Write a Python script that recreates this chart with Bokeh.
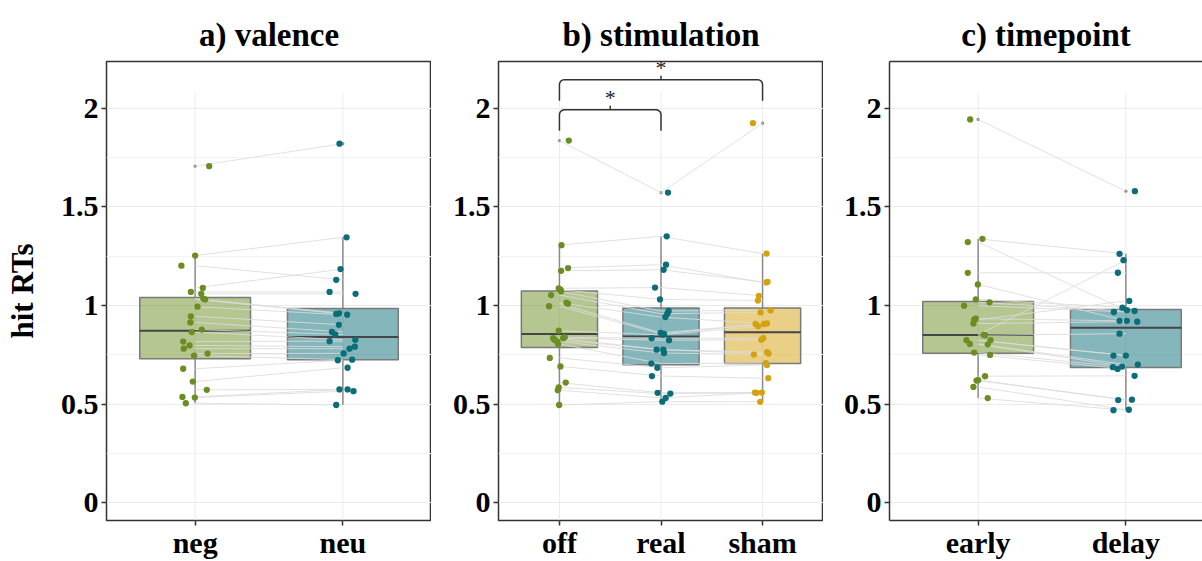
import numpy as np
from bokeh.plotting import figure
from bokeh.layouts import row
from bokeh.models import Range1d, FixedTicker, NumeralTickFormatter, LinearAxis
from bokeh.core.properties import value
from bokeh.embed import file_html
from bokeh.resources import INLINE

FONT = "Liberation Serif"

# ---- hit RTs per subject (same row index = same subject within a panel) ----
valence_labels = ["neg", "neu"]
neg_rt = [1.707, 1.253, 1.202, 1.089, 1.069, 1.059, 1.035, 1.031, 0.994, 0.945, 0.914, 0.878,
          0.865, 0.817, 0.797, 0.781, 0.756, 0.746, 0.679, 0.614, 0.572, 0.536, 0.533, 0.504]
neu_rt = [1.821, 1.346, 1.130, 1.185, 1.069, 1.059, 0.960, 0.957, 0.953, 0.902, 0.866, 0.853,
          0.826, 0.819, 0.791, 0.781, 0.757, 0.725, 0.722, 0.684, 0.574, 0.574, 0.565, 0.495]
neg_jit = [0.095, 0.0, -0.093, 0.052, -0.029, 0.041, 0.056, 0.068, 0.016, -0.029, -0.032, 0.045,
           -0.023, -0.081, -0.038, -0.077, 0.084, -0.007, -0.081, -0.016, 0.079, -0.086, -0.002, -0.063]
neu_jit = [-0.023, 0.025, -0.045, -0.016, -0.090, 0.086, -0.025, -0.045, 0.029, -0.027, -0.074, -0.052,
           0.084, -0.090, 0.081, 0.045, 0.005, 0.063, -0.034, 0.032, -0.023, 0.032, 0.072, -0.045]

stim_labels = ["off", "real", "sham"]
off_rt = [1.837, 1.306, 1.190, 1.176, 1.087, 1.080, 1.072, 1.053, 1.014, 1.009, 0.996, 0.872,
          0.839, 0.834, 0.834, 0.825, 0.817, 0.805, 0.734, 0.691, 0.609, 0.584, 0.570, 0.495]
real_rt = [1.573, 1.351, 1.207, 1.181, 1.091, 1.031, 0.972, 0.958, 0.941, 0.861, 0.856, 0.851,
           0.834, 0.824, 0.776, 0.776, 0.759, 0.705, 0.684, 0.642, 0.557, 0.553, 0.531, 0.512]
sham_rt = [1.925, 1.263, 1.117, 1.120, 1.049, 1.025, 0.975, 0.965, 0.909, 0.906, 0.906, 0.895,
           0.834, 0.826, 0.763, 0.756, 0.751, 0.708, 0.698, 0.631, 0.558, 0.557, 0.558, 0.511]
off_jit = [0.092, 0.020, 0.085, 0.016, -0.007, 0.010, 0.016, -0.082, 0.069, 0.085, -0.102, -0.007,
           0.052, -0.062, 0.036, -0.046, -0.023, -0.013, -0.095, 0.010, 0.062, -0.007, -0.016, -0.003]
real_jit = [0.069, 0.056, 0.049, 0.026, -0.059, -0.010, 0.075, 0.062, 0.043, -0.003, 0.030, 0.020,
            -0.092, 0.079, -0.043, 0.023, 0.030, -0.095, -0.036, -0.089, -0.033, 0.092, 0.046, 0.013]
sham_jit = [-0.095, 0.039, 0.039, 0.049, -0.036, -0.046, 0.079, -0.020, 0.043, -0.069, 0.013, -0.043,
            0.007, -0.013, 0.046, 0.059, -0.085, 0.033, 0.043, 0.056, -0.075, -0.059, -0.007, -0.023]

# pairwise comparisons marked with a bracket and a star
stim_pairs = [("off", "real"), ("off", "sham")]
stim_pair_y = [1.993, 2.146]
stim_pair_label = ["*", "*"]

time_labels = ["early", "delay"]
early_rt = [1.944, 1.338, 1.322, 1.166, 1.107, 1.031, 1.016, 0.999, 0.933, 0.928, 0.908, 0.851,
            0.849, 0.824, 0.824, 0.805, 0.803, 0.761, 0.749, 0.641, 0.621, 0.619, 0.587, 0.530]
delay_rt = [1.580, 1.262, 0.976, 1.166, 0.922, 0.989, 0.972, 0.967, 0.922, 1.023, 0.918, 1.230,
            0.857, 0.746, 0.746, 0.700, 0.690, 0.687, 0.678, 0.643, 0.522, 0.520, 0.471, 0.469]
early_jit = [-0.054, 0.029, -0.070, -0.070, -0.002, -0.016, 0.077, -0.095, -0.016, -0.027, -0.032, 0.038,
             0.047, -0.079, 0.084, -0.056, 0.065, -0.027, 0.081, 0.047, 0.0, -0.011, -0.032, 0.065]
delay_jit = [0.061, -0.043, 0.007, -0.054, -0.043, -0.023, 0.059, -0.081, 0.007, 0.023, 0.077, -0.016,
             -0.043, -0.084, 0.0, 0.081, -0.025, -0.088, -0.056, 0.059, 0.041, -0.052, 0.020, -0.084]

y_ticks = [0, 0.5, 1, 1.5, 2]
y_minor = [0.25, 0.75, 1.25, 1.75]

GREEN = "#6B8E23"
TEAL = "#0B6D78"
GOLD = "#D4A20E"

Y0, Y1 = -0.091, 2.238
BOX_W = 0.75


def box_stats(vals):
    v = np.asarray(vals)
    q1, med, q3 = np.percentile(v, [25, 50, 75])
    iqr = q3 - q1
    lo = v[v >= q1 - 1.5 * iqr].min()
    hi = v[v <= q3 + 1.5 * iqr].max()
    out = v[(v < q1 - 1.5 * iqr) | (v > q3 + 1.5 * iqr)]
    return q1, med, q3, lo, hi, out


def make_panel(title, labels, series, jitters, colors, width, border_left, x_hi,
               ylabel=None, closed=True):
    p = figure(width=width, height=561, x_range=Range1d(0.4, x_hi), y_range=Range1d(Y0, Y1),
               output_backend="svg", toolbar_location=None,
               min_border_left=border_left, min_border_right=0,
               min_border_top=61, min_border_bottom=40)
    p.background_fill_color = "white"
    p.border_fill_color = "white"

    p.title.text = title
    p.title.align = "center"
    p.title.text_font = FONT
    p.title.text_font_size = "33px"
    p.title.text_font_style = "bold"
    p.title.text_color = "black"
    p.title.standoff = 18

    cats = list(range(1, len(labels) + 1))

    # axes
    p.yaxis.ticker = FixedTicker(ticks=y_ticks, minor_ticks=y_minor)
    p.yaxis.formatter = NumeralTickFormatter(format="0.[0]")
    p.xaxis.ticker = FixedTicker(ticks=cats)
    p.xaxis.major_label_overrides = {c: lab for c, lab in zip(cats, labels)}
    for ax in (p.xaxis, p.yaxis):
        ax.major_label_text_font = FONT
        ax.major_label_text_font_style = "bold"
        ax.major_label_text_color = "black"
        ax.major_tick_line_color = "#333333"
        ax.major_tick_line_width = 1.5
        ax.major_tick_in = 0
        ax.major_tick_out = 5
        ax.minor_tick_line_color = None
        ax.axis_line_color = "#333333" if not closed else None
        ax.axis_line_width = 1.5
    p.yaxis.major_label_text_font_size = "30px"
    p.yaxis.major_label_standoff = 3
    p.xaxis.major_label_text_font_size = "30px"
    p.xaxis.major_label_standoff = 0
    if ylabel:
        p.yaxis.axis_label = ylabel
        p.yaxis.axis_label_text_font = FONT
        p.yaxis.axis_label_text_font_size = "31px"
        p.yaxis.axis_label_text_font_style = "bold"
        p.yaxis.axis_label_text_color = "black"
        p.yaxis.axis_label_standoff = 18

    # grid
    p.xgrid.grid_line_color = None
    p.ygrid.grid_line_color = "#EBEBEB"
    p.ygrid.grid_line_width = 1
    p.ygrid.minor_grid_line_color = "#F4F4F4"
    p.ygrid.minor_grid_line_width = 1
    p.segment(x0=cats, y0=[Y0] * len(cats), x1=cats, y1=[2.08] * len(cats),
              line_color="#EBEBEB", line_width=1)

    if closed:
        p.outline_line_color = "#333333"
        p.outline_line_width = 1.5
    else:
        p.outline_line_color = None
        top = LinearAxis(ticker=FixedTicker(ticks=[]), axis_line_color="#333333",
                         axis_line_width=1.5, major_tick_line_color=None,
                         minor_tick_line_color=None, major_label_text_font_size="0px")
        p.add_layout(top, "above")

    # boxes, whiskers and outliers
    for c, vals, col in zip(cats, series, colors):
        q1, med, q3, lo, hi, out = box_stats(vals)
        p.segment(x0=[c, c], y0=[q3, q1], x1=[c, c], y1=[hi, lo],
                  line_color="#8A8A8A", line_width=1.5)
        p.quad(left=[c - BOX_W / 2], right=[c + BOX_W / 2], bottom=[q1], top=[q3],
               fill_color=col, fill_alpha=0.5, line_color="#7A7A7A", line_width=1.5)
        p.segment(x0=[c - BOX_W / 2], y0=[med], x1=[c + BOX_W / 2], y1=[med],
                  line_color="#454545", line_width=2)
        if len(out):
            p.scatter(x=[c] * len(out), y=list(out), size=3.2,
                      fill_color="#8C8C8C", line_color=None)

    # subject lines between conditions
    n = len(series[0])
    xs = [cats for _ in range(n)]
    ys = [[s[i] for s in series] for i in range(n)]
    p.multi_line(xs=xs, ys=ys, line_color="#DCDCDC", line_width=1, line_alpha=0.85)

    # jittered subject points
    for c, vals, jit, col in zip(cats, series, jitters, colors):
        p.scatter(x=[c + j for j in jit], y=vals, size=6.3,
                  fill_color=col, line_color=None)
    return p, cats


pa, _ = make_panel("a) valence", valence_labels, [neg_rt, neu_rt], [neg_jit, neu_jit],
                   [GREEN, TEAL], width=431, border_left=106, x_hi=2.6, ylabel="hit RTs")

pb, bcats = make_panel("b) stimulation", stim_labels, [off_rt, real_rt, sham_rt],
                       [off_jit, real_jit, sham_jit], [GREEN, TEAL, GOLD],
                       width=392, border_left=67, x_hi=3.6)

# significance brackets with rounded corners
LEG = 0.107
RX, RY = 0.05, 0.025
for (a, b), yb, lab in zip(stim_pairs, stim_pair_y, stim_pair_label):
    xa = bcats[stim_labels.index(a)]
    xb = bcats[stim_labels.index(b)]
    t = np.linspace(0, np.pi / 2, 6)
    left_x = list(xa + RX - RX * np.cos(t))
    left_y = list(yb - RY + RY * np.sin(t))
    right_x = list(xb - RX + RX * np.sin(t))
    right_y = list(yb - RY + RY * np.cos(t))
    bx = [xa] + left_x + right_x + [xb]
    by = [yb - LEG] + left_y + right_y + [yb - LEG]
    pb.line(bx, by, line_color="#333333", line_width=1.5)
    mid = (xa + xb) / 2
    pb.segment(x0=[mid], y0=[yb], x1=[mid], y1=[yb + 0.02], line_color="#333333", line_width=1.5)
    pb.text(x=[mid], y=[yb + 0.062], text=[lab], text_align="center", text_baseline="middle",
            text_font=value(FONT), text_font_size="22px", text_color="#222222")

pc, _ = make_panel("c) timepoint", time_labels, [early_rt, delay_rt], [early_jit, delay_jit],
                   [GREEN, TEAL], width=379, border_left=66, x_hi=0.4 + 313 / (325 / 2.2),
                   closed=False)

layout = row(pa, pb, pc)
open("out.html", "w").write(file_html(layout, INLINE))
